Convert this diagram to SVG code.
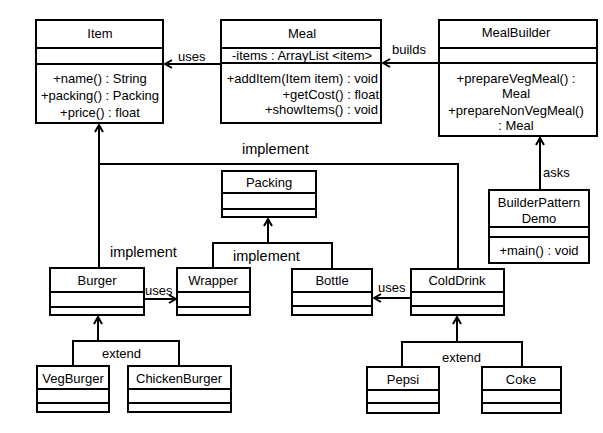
<svg xmlns="http://www.w3.org/2000/svg" width="603" height="433" viewBox="0 0 603 433">
<defs>
<style>
.box{fill:#fff;stroke:#000;stroke-width:2}
.sep{stroke:#000;stroke-width:2}
text{font-family:"Liberation Sans",Arial,sans-serif;font-size:13px;fill:#000}
.c{text-anchor:middle}
.e{text-anchor:end}
.big{font-size:14.5px}
.conn{fill:none;stroke:#000;stroke-width:2}
</style>
<marker id="arr" viewBox="0 0 10 10" refX="9" refY="5" markerWidth="10" markerHeight="10" markerUnits="userSpaceOnUse" orient="auto"><path d="M2,1 L9,5 L2,9" fill="none" stroke="#000" stroke-width="2"/></marker>
</defs>
<rect width="603" height="433" fill="#fff"/>

<g id="connectors">
<line class="conn" x1="221" y1="64" x2="165" y2="64" marker-end="url(#arr)"/>
<line class="conn" x1="439" y1="63" x2="383" y2="63" marker-end="url(#arr)"/>
<line class="conn" x1="540" y1="190" x2="540" y2="138" marker-end="url(#arr)"/>
<line class="conn" x1="99" y1="268" x2="99" y2="125" marker-end="url(#arr)"/>
<polyline class="conn" points="458,269 458,164 99,164"/>
<polyline class="conn" points="213,268 213,243 332,243 332,269"/>
<line class="conn" x1="268" y1="243" x2="268" y2="219" marker-end="url(#arr)"/>
<line class="conn" x1="144" y1="299" x2="176" y2="299" marker-end="url(#arr)"/>
<line class="conn" x1="411" y1="298" x2="374" y2="298" marker-end="url(#arr)"/>
<polyline class="conn" points="73,366 73,341 179,341 179,366"/>
<line class="conn" x1="98" y1="341" x2="98" y2="317" marker-end="url(#arr)"/>
<polyline class="conn" points="402,367 402,342 522,342 522,367"/>
<line class="conn" x1="457" y1="342" x2="457" y2="317" marker-end="url(#arr)"/>
<text x="178" y="61">uses</text>
<text x="392" y="54">builds</text>
<text x="543" y="177">asks</text>
<text class="big" x="242" y="154">implement</text>
<text class="big" x="110" y="257">implement</text>
<text class="big" x="233" y="261">implement</text>
<text x="145" y="295">uses</text>
<text x="378" y="292">uses</text>
<text x="102" y="358">extend</text>
<text x="442" y="362">extend</text>
</g>

<g id="Item">
<rect class="box" x="36" y="20" width="127" height="103"/>
<line class="sep" x1="36" y1="48" x2="163" y2="48"/>
<line class="sep" x1="36" y1="64" x2="163" y2="64"/>
<text class="c" x="100" y="38">Item</text>
<text class="c" x="100" y="83">+name() : String</text>
<text class="c" x="100" y="100">+packing() : Packing</text>
<text class="c" x="100" y="117">+price() : float</text>
</g>

<g id="Meal">
<rect class="box" x="221" y="20" width="160" height="103"/>
<line class="sep" x1="221" y1="48" x2="381" y2="48"/>
<line class="sep" x1="221" y1="63" x2="381" y2="63"/>
<text class="c" x="302" y="38">Meal</text>
<text class="c" x="302" y="60">-items : ArrayList &lt;item&gt;</text>
<text class="e" x="378" y="83">+addItem(Item item) : void</text>
<text class="e" x="379" y="99">+getCost() : float</text>
<text class="e" x="378" y="114">+showItems() : void</text>
</g>

<g id="MealBuilder">
<rect class="box" x="439" y="20" width="158" height="116"/>
<line class="sep" x1="439" y1="48" x2="597" y2="48"/>
<line class="sep" x1="439" y1="63" x2="597" y2="63"/>
<text class="c" x="516" y="37">MealBuilder</text>
<text class="c" x="516" y="83">+prepareVegMeal() :</text>
<text class="c" x="516" y="98">Meal</text>
<text class="c" x="516" y="115">+prepareNonVegMeal()</text>
<text class="c" x="516" y="130">: Meal</text>
</g>

<g id="BuilderPatternDemo">
<rect class="box" x="489" y="190" width="100" height="73"/>
<line class="sep" x1="489" y1="227" x2="589" y2="227"/>
<line class="sep" x1="489" y1="237" x2="589" y2="237"/>
<text class="c" x="539" y="207">BuilderPattern</text>
<text class="c" x="539" y="223">Demo</text>
<text class="c" x="539" y="255">+main() : void</text>
</g>

<g id="Packing">
<rect class="box" x="222" y="171" width="94" height="46"/>
<line class="sep" x1="222" y1="193" x2="316" y2="193"/>
<line class="sep" x1="222" y1="209" x2="316" y2="209"/>
<text class="c" x="269" y="187">Packing</text>
</g>

<g id="Burger">
<rect class="box" x="50" y="268" width="94" height="47"/>
<line class="sep" x1="50" y1="292" x2="144" y2="292"/>
<line class="sep" x1="50" y1="307" x2="144" y2="307"/>
<text class="c" x="97" y="285">Burger</text>
</g>

<g id="Wrapper">
<rect class="box" x="177" y="268" width="73" height="47"/>
<line class="sep" x1="177" y1="292" x2="250" y2="292"/>
<line class="sep" x1="177" y1="307" x2="250" y2="307"/>
<text class="c" x="213" y="285">Wrapper</text>
</g>

<g id="Bottle">
<rect class="box" x="292" y="269" width="80" height="46"/>
<line class="sep" x1="292" y1="292" x2="372" y2="292"/>
<line class="sep" x1="292" y1="306" x2="372" y2="306"/>
<text class="c" x="332" y="285">Bottle</text>
</g>

<g id="ColdDrink">
<rect class="box" x="411" y="269" width="93" height="46"/>
<line class="sep" x1="411" y1="292" x2="504" y2="292"/>
<line class="sep" x1="411" y1="306" x2="504" y2="306"/>
<text class="c" x="457" y="285">ColdDrink</text>
</g>

<g id="VegBurger">
<rect class="box" x="37" y="366" width="72" height="46"/>
<line class="sep" x1="37" y1="389" x2="109" y2="389"/>
<line class="sep" x1="37" y1="403" x2="109" y2="403"/>
<text class="c" x="73" y="383">VegBurger</text>
</g>

<g id="ChickenBurger">
<rect class="box" x="128" y="366" width="103" height="46"/>
<line class="sep" x1="128" y1="389" x2="231" y2="389"/>
<line class="sep" x1="128" y1="403" x2="231" y2="403"/>
<text class="c" x="179" y="383">ChickenBurger</text>
</g>

<g id="Pepsi">
<rect class="box" x="367" y="367" width="72" height="46"/>
<line class="sep" x1="367" y1="390" x2="439" y2="390"/>
<line class="sep" x1="367" y1="403" x2="439" y2="403"/>
<text class="c" x="403" y="384">Pepsi</text>
</g>

<g id="Coke">
<rect class="box" x="482" y="367" width="79" height="46"/>
<line class="sep" x1="482" y1="390" x2="561" y2="390"/>
<line class="sep" x1="482" y1="403" x2="561" y2="403"/>
<text class="c" x="521" y="384">Coke</text>
</g>
</svg>
